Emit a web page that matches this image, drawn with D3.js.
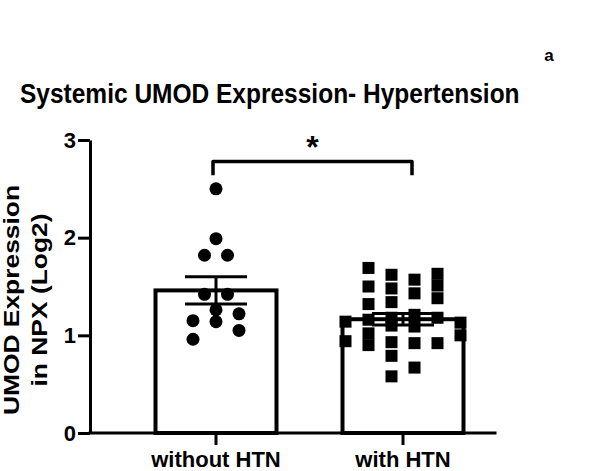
<!DOCTYPE html>
<html>
<head>
<meta charset="utf-8">
<script src="https://cdn.jsdelivr.net/npm/d3@7"></script>
<style>
  body { margin: 0; background: #fff; }
  text { font-family: Arial, "Liberation Sans", sans-serif; font-weight: bold; fill: #000; }
</style>
</head>
<body>
<svg id="chart"></svg>
<script>
// groups and summary values (mean, SEM)
const groups = ["without HTN", "with HTN"];
const means = [1.46, 1.165];
const sems = [0.14, 0.058];

// individual points, with their spread column (Prism style scatter)
const noHtnValues = [2.50, 1.99, 1.82, 1.82, 1.42, 1.42, 1.26, 1.14, 1.22, 1.05, 1.15, 0.96];
const noHtnCols   = [0, 0, -1, 1, -1, 1, 0, 0, 2, 2, -2, -2];

const htnValues = [
	1.14, 0.94,
	1.69, 1.50, 1.32, 1.16, 1.02, 0.90,
	1.62, 1.48, 1.34, 1.18, 1.10, 0.93, 0.79, 0.58,
	1.57, 1.43, 1.21, 1.09, 0.92, 0.67,
	1.63, 1.51, 1.38, 1.18, 0.92,
	1.13, 1.00
];
const htnCols = [
	-5, -5,
	-3, -3, -3, -3, -3, -3,
	-1, -1, -1, -1, -1, -1, -1, -1,
	1, 1, 1, 1, 1, 1,
	3, 3, 3, 3, 3,
	5, 5
];

const yTicks = [0, 1, 2, 3];
const bracketTop = 2.78;
const bracketFoot = 2.64;

let width = 600;
let height = 471;

let svg = d3.select('#chart')
	.attr('width', width)
	.attr('height', height);

let y = d3.scaleLinear().domain([0, 3]).range([433, 140]);
let x = d3.scaleBand().domain(groups).range([122.5, 496.5]);
let cx = function(g) { return x(g) + x.bandwidth() / 2; };
let barW = x.bandwidth() * 0.647;
let colW = 11.5;

// title and panel letter
svg.append('text')
	.attr('transform', 'translate(20,103) scale(1,1.1)')
	.style('font-size', '24.5px')
	.text('Systemic UMOD Expression- Hypertension');

svg.append('text')
	.attr('x', 549)
	.attr('y', 61)
	.attr('text-anchor', 'middle')
	.style('font-size', '17px')
	.text('a');

// bars
svg.append('g')
	.selectAll('rect')
	.data(groups)
	.enter()
	.append('rect')
	.attr('x', function(d) { return cx(d) - barW / 2; })
	.attr('y', function(d, i) { return y(means[i]); })
	.attr('width', barW)
	.attr('height', function(d, i) { return y(0) - y(means[i]); })
	.attr('fill', 'white')
	.attr('stroke', 'black')
	.attr('stroke-width', 4);

// points
svg.append('g')
	.selectAll('circle')
	.data(noHtnValues)
	.enter()
	.append('circle')
	.attr('cx', function(d, i) { return cx(groups[0]) + noHtnCols[i] * colW; })
	.attr('cy', function(d) { return y(d); })
	.attr('r', 6.5)
	.attr('fill', 'black');

svg.append('g')
	.selectAll('rect')
	.data(htnValues)
	.enter()
	.append('rect')
	.attr('x', function(d, i) { return cx(groups[1]) + htnCols[i] * colW - 6; })
	.attr('y', function(d) { return y(d) - 6; })
	.attr('width', 12)
	.attr('height', 12)
	.attr('fill', 'black');

// error bars (SEM)
let err = svg.append('g')
	.attr('stroke', 'black')
	.attr('stroke-width', 3);

groups.forEach(function(g, i) {
	let c = cx(g);
	err.append('line')
		.attr('x1', c).attr('x2', c)
		.attr('y1', y(means[i] + sems[i])).attr('y2', y(means[i] - sems[i]));
	[means[i] + sems[i], means[i] - sems[i]].forEach(function(v) {
		err.append('line')
			.attr('x1', c - 31).attr('x2', c + 31)
			.attr('y1', y(v)).attr('y2', y(v));
	});
});

// axes
let yAxis = svg.append('g')
	.attr('transform', 'translate(90,0)')
	.call(d3.axisLeft(y).tickValues(yTicks).tickFormat(d3.format('d')).tickSize(12).tickSizeOuter(0).tickPadding(2));

yAxis.selectAll('path, line').attr('stroke', 'black').attr('stroke-width', 3);
yAxis.selectAll('text').style('font-size', '22px').style('font-family', 'Arial, "Liberation Sans", sans-serif');

let xAxis = svg.append('g')
	.attr('transform', 'translate(0,' + y(0) + ')')
	.call(d3.axisBottom(x).tickSize(12).tickSizeOuter(0).tickPadding(6));

xAxis.select('.domain').attr('d', 'M88.5,0H' + x.range()[1]);
xAxis.selectAll('path, line').attr('stroke', 'black').attr('stroke-width', 3);
xAxis.selectAll('text').style('font-size', '22px').style('font-family', 'Arial, "Liberation Sans", sans-serif');

// y label
svg.append('text')
	.attr('transform', 'translate(19,300) rotate(-90) scale(1.2,1)')
	.attr('text-anchor', 'middle')
	.style('font-size', '22px')
	.text('UMOD Expression');

svg.append('text')
	.attr('transform', 'translate(47,300) rotate(-90) scale(1.2,1)')
	.attr('text-anchor', 'middle')
	.style('font-size', '22px')
	.text('in NPX (Log2)');

// significance bracket
let bx1 = cx(groups[0]) - 3;
let bx2 = cx(groups[1]) + 9;
svg.append('path')
	.attr('d', 'M' + bx1 + ',' + y(bracketFoot) + 'V' + y(bracketTop) + 'H' + bx2 + 'V' + y(bracketFoot))
	.attr('fill', 'none')
	.attr('stroke', 'black')
	.attr('stroke-width', 3.5)
	.attr('stroke-linejoin', 'round');

svg.append('text')
	.attr('x', (bx1 + bx2) / 2)
	.attr('y', 158)
	.attr('text-anchor', 'middle')
	.style('font-size', '32px')
	.text('*');
</script>
</body>
</html>
